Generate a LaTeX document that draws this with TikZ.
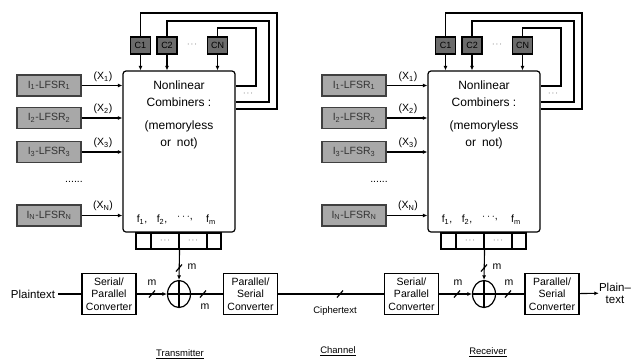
\documentclass[tikz,border=0pt]{standalone}
\usepackage{fontspec}
\setmainfont{Liberation Sans}
\usetikzlibrary{arrows.meta,shapes.geometric}
\definecolor{lfsrfill}{gray}{0.66}
\definecolor{cfill}{gray}{0.42}
\tikzset{
 every node/.style={inner sep=0pt},
 ln/.style={line width=1.1pt},
 arr/.style={ln,-{Latex[length=4.5pt,width=4pt]}},
 lfsr/.style={draw=black!75,line width=1.1pt,fill=lfsrfill,minimum width=64pt,minimum height=21pt,font=\fontsize{10.5}{12}\selectfont,text=black!80},
 cbox/.style={draw,line width=1.1pt,fill=cfill,minimum width=20pt,minimum height=17pt,font=\fontsize{9}{10}\selectfont},
 combbox/.style={draw,line width=1.2pt,rounded corners=3pt,minimum width=112pt,minimum height=161pt},
 cell/.style={draw,line width=1.1pt,minimum height=16pt},
 conv/.style={draw,line width=1.4pt,minimum width=54pt,minimum height=41pt,align=center,font=\fontsize{10.5}{12.5}\selectfont},
 xorn/.style={draw,ellipse,line width=1.2pt,minimum width=23pt,minimum height=27pt},
 lbl/.style={font=\fontsize{10.5}{12}\selectfont},
 ctext/.style={font=\fontsize{12}{13}\selectfont},
 dotsl/.style={font=\fontsize{8}{10}\selectfont},
 captext/.style={font=\fontsize{9.5}{11}\selectfont},
}
\newcommand\slashmk[1]{\draw[line width=1.2pt] ([shift={(-3,3.5)}]#1) -- ([shift={(3,-3.5)}]#1);}
\newcommand\drawunit{%
 \node[combbox] (comb) at (179,151.5) {};
 \node[ctext] (t1) at (179,85) {Nonlinear};
 \node[ctext] (t2) at (179,102) {Combiners :};
 \node[ctext] (t3) at (179,126) {(memoryless};
 \node[ctext] (t4) at (179,143) {or\enspace not)};
 \node[lbl] (f1) at (142,220) {f\textsubscript{1},};
 \node[lbl] (f2) at (162,220) {f\textsubscript{2},};
 \node[lbl] (fd) at (185,218) {$\cdots$,};
 \node[lbl] (fm) at (211,220) {f\textsubscript{m}};
 \node[cbox] (c1) at (140.5,45.5) {C1};
 \node[cbox] (c2) at (167,45.5) {C2};
 \node[cbox] (cn) at (217.5,45.5) {CN};
 \node[dotsl] (cd) at (192,45) {$\cdots$};
 \draw[arr] (c1.south) -- (c1.south |- comb.north);
 \draw[arr] (c2.south) -- (c2.south |- comb.north);
 \draw[arr] (cn.south) -- (cn.south |- comb.north);
 \draw[ln] (c1.north) |- (277,13) |- (comb.east |- 0,109);
 \draw[ln] (c2.north) |- (269,21) |- (comb.east |- 0,102);
 \draw[ln] (cn.north) |- (256,28) |- (comb.east |- 0,86);
 \node[dotsl] (ld) at (248,94) {$\cdots$};
 \node[lfsr] (l1) at (49,85.5) {I\textsubscript{1}-LFSR\textsubscript{1}};
 \node[lfsr] (l2) at (49,118) {I\textsubscript{2}-LFSR\textsubscript{2}};
 \node[lfsr] (l3) at (49,152) {I\textsubscript{3}-LFSR\textsubscript{3}};
 \node[lfsr] (ln) at (49,215.5) {I\textsubscript{N}-LFSR\textsubscript{N}};
 \node[lbl] (vd) at (74,182) {......};
 \draw[arr] (l1.east) -- (l1.east -| comb.west);
 \draw[arr] (l2.east) -- (l2.east -| comb.west);
 \draw[arr] (l3.east) -- (l3.east -| comb.west);
 \draw[arr] (ln.east) -- (ln.east -| comb.west);
 \node[lbl] (x1) at (103,77) {(X\textsubscript{1})};
 \node[lbl] (x2) at (103,109) {(X\textsubscript{2})};
 \node[lbl] (x3) at (103,143) {(X\textsubscript{3})};
 \node[lbl] (xn) at (103,206) {(X\textsubscript{N})};
 \node[cell,minimum width=15pt] (r1) at (143.5,241) {};
 \node[cell,minimum width=28pt,dotsl] (r2) at (165,241) {$\cdots$};
 \node[cell,minimum width=28pt,dotsl] (r3) at (193,241) {$\cdots$};
 \node[cell,minimum width=14pt] (r4) at (214,241) {};
 \node[xorn] (xor) at (179,294) {};
 \draw[ln] (xor.north) -- (xor.south) (xor.west) -- (xor.east);
 \draw[arr] (r2.south east) -- (xor.north);
 \slashmk{179,268}
 \node[lbl] (mt) at (192,267) {m};
}
\begin{document}
\begin{tikzpicture}[x=1pt,y=-1pt]
\useasboundingbox (0,0) rectangle (639,360);
\begin{scope}[name prefix=T-]
\drawunit
\end{scope}
\begin{scope}[shift={(305,0)},name prefix=R-]
\drawunit
\end{scope}
\node[conv] (tsp) at (109,294) {Serial/\\Parallel\\Converter};
\node[conv] (tps) at (250.5,294) {Parallel/\\Serial\\Converter};
\node[conv] (rsp) at (411.5,294) {Serial/\\Parallel\\Converter};
\node[conv] (rps) at (552,294) {Parallel/\\Serial\\Converter};
\node[lbl,font=\fontsize{11.5}{13}\selectfont,inner sep=3pt] (pin) at (33,294) {Plaintext};
\node[lbl,font=\fontsize{11.5}{12}\selectfont,align=center] (pout) at (615,293) {Plain--\\text};
\draw[ln] (pin) -- (tsp);
\draw[arr] (tsp) -- (T-xor);
\draw[ln] (T-xor) -- (tps);
\draw[ln] (tps) -- (rsp);
\draw[arr] (rsp) -- (R-xor);
\draw[ln] (R-xor) -- (rps);
\draw[arr] (rps) -- (pout);
\slashmk{152,294}
\slashmk{203,294}
\slashmk{340,294}
\slashmk{457,294}
\slashmk{508,294}
\node[lbl] (m1) at (152,283) {m};
\node[lbl] (m2) at (205,307) {m};
\node[lbl] (m3) at (458,283) {m};
\node[lbl] (m4) at (509,283) {m};
\node[captext] (ct) at (335,311) {Ciphertext};
\node[captext] (tx) at (180,354) {\underline{Transmitter}};
\node[captext] (ch) at (338,351) {\underline{Channel}};
\node[captext] (rx) at (488,352) {\underline{Receiver}};
\end{tikzpicture}
\end{document}
